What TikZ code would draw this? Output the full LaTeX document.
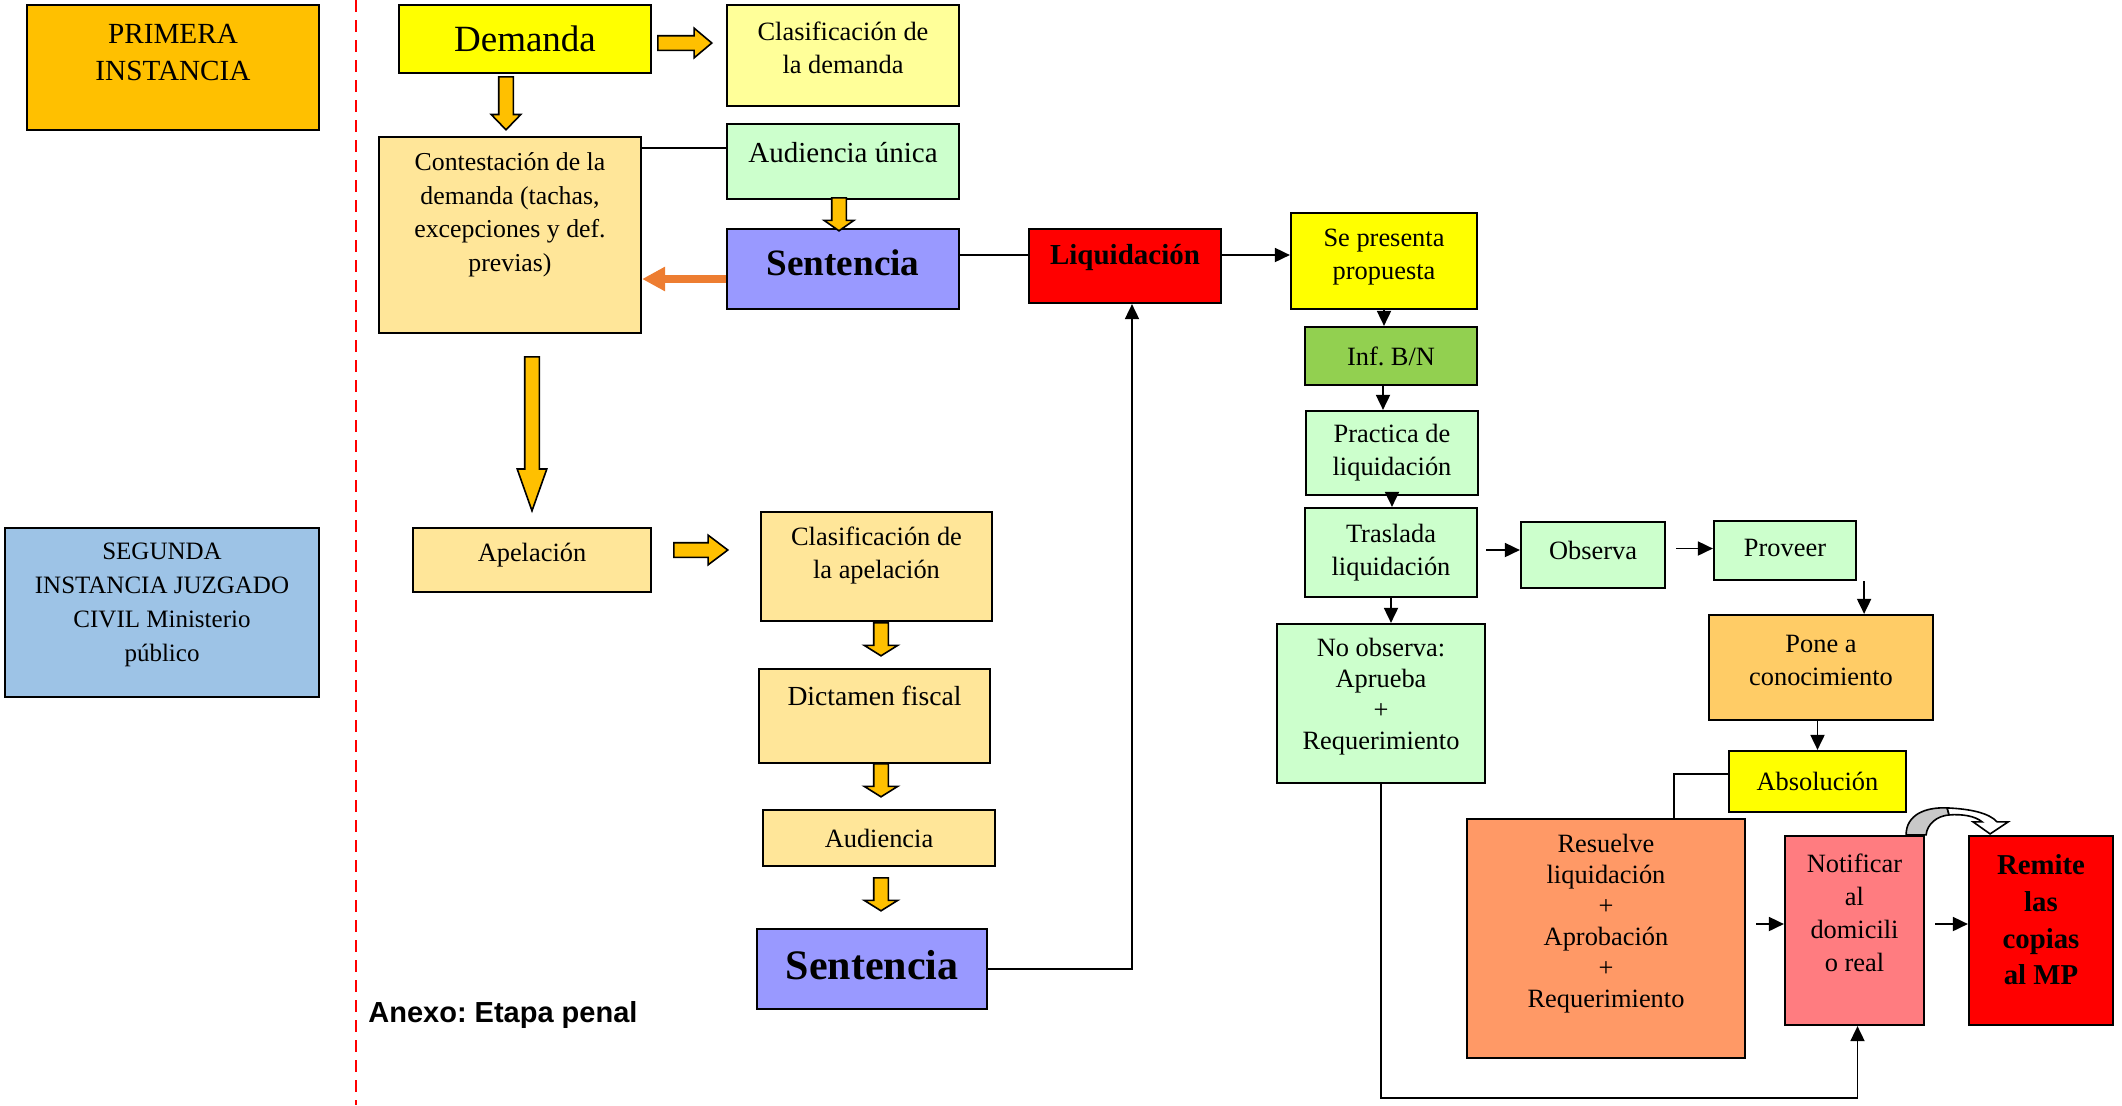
\documentclass[tikz,border=0pt]{standalone}
\usepackage{fontspec}
\setmainfont{Liberation Serif}
\newfontfamily\anexofont{Liberation Sans}
\usetikzlibrary{positioning,calc,arrows.meta,shapes.arrows}
\frenchspacing
\definecolor{ambar}{HTML}{FFC000}
\definecolor{amarillo}{HTML}{FFFF00}
\definecolor{amclaro}{HTML}{FFFF99}
\definecolor{crema}{HTML}{FFE699}
\definecolor{verdecl}{HTML}{CCFFCC}
\definecolor{lila}{HTML}{9999FF}
\definecolor{rojo}{HTML}{FF0000}
\definecolor{verdeinf}{HTML}{92D050}
\definecolor{naranjacl}{HTML}{FFCC66}
\definecolor{salmon}{HTML}{FF9966}
\definecolor{rosa}{HTML}{FF7C80}
\definecolor{celeste}{HTML}{9DC3E6}
\definecolor{naranja}{HTML}{ED7D31}
\definecolor{grisflecha}{HTML}{C8C8C8}
\newcommand{\txtsize}{\fontsize{13.2}{16.5}\selectfont}
\newcommand{\txtsmall}{\fontsize{13.2}{15.5}\selectfont}
\tikzset{
box/.style={draw=black,line width=1.1pt,inner sep=2pt,align=center,font=\txtsize},
txt/.style={align=center,font=\txtsize,inner sep=0pt},
arr/.style={-{Triangle[length=7.5pt,width=7pt]},line width=0.9pt},
ln/.style={line width=0.9pt},
yarr/.style={single arrow,draw=black,line width=0.8pt,fill=ambar,inner sep=0pt,inner ysep=3.25pt,
single arrow head extend=3.75pt,single arrow head indent=0pt,anchor=tail},
orarr/.style={-{Triangle[length=11.5pt,width=11.5pt]},line width=4pt,draw=naranja},
sep/.style={draw=rojo,line width=1.2pt,dash pattern=on 6pt off 4pt}
}
\begin{document}
\begin{tikzpicture}[x=0.5pt,y=-0.5pt]
\useasboundingbox (0,0) rectangle (2122,1105);
% instancias
\node[box,fill=ambar,minimum width=146pt,minimum height=62.5pt] (prim) at (173,67.5) {};
\node[txt,font=\fontsize{14.6}{18.5}\selectfont] (prim-t) at (173,52) {PRIMERA\\INSTANCIA};
\node[box,fill=celeste,minimum width=157pt,minimum height=84.5pt] (seg) at (162,612.5) {};
\node[txt,font=\fontsize{12.5}{17}\selectfont] (seg-t) at (162,605) {SEGUNDA\\INSTANCIA JUZGADO\\CIVIL Ministerio\\público};
\draw[sep] (356,0) -- (356,1105);

% primera instancia
\node[box,fill=amarillo,minimum width=126pt,minimum height=34pt,font=\fontsize{18.5}{22}\selectfont] (dem) at (525,39) {Demanda};
\node[box,fill=amclaro,minimum width=116pt,minimum height=50.5pt] (clasdem) at (843,55.5) {};
\node[txt] (clasdem-t) at (843,48) {Clasificación de\\la demanda};
\node[box,fill=crema,minimum width=131pt,minimum height=98pt] (cont) at (510,235) {};
\node[txt,font=\fontsize{12.9}{16.75}\selectfont] (cont-t) at (510,215) {Contestación de la\\demanda (tachas,\\excepciones y def.\\previas)};
\node[box,fill=verdecl,minimum width=116pt,minimum height=37.5pt] (audu) at (843,161.5) {};
\node[txt,font=\fontsize{14.5}{17}\selectfont] (audu-t) at (843,153) {Audiencia única};
\node[box,fill=lila,minimum width=116pt,minimum height=40pt] (sent) at (843,269) {};
\node[txt,font=\fontsize{18.6}{22}\selectfont\bfseries] (sent-t) at (843,263) {Sentencia};
\node[box,fill=rojo,minimum width=96pt,minimum height=37pt] (liq) at (1125,266) {};
\node[txt,font=\fontsize{14.5}{17}\selectfont\bfseries] (liq-t) at (1125,258) {Liquidación};

\node[yarr,minimum height=27pt,single arrow tip angle=80] (a1) at (657,43) {};
\node[yarr,minimum height=26.5pt,single arrow tip angle=88,rotate=-90] (a2) at (506,76) {};
\node[yarr,minimum height=16.5pt,single arrow tip angle=110,rotate=-90] (a3) at (839,197) {};
\node[yarr,minimum height=77pt,single arrow tip angle=39,rotate=-90] (a4) at (532,356) {};
\draw[orarr] ([yshift=-5pt]sent.west) -- ([yshift=-5pt]sent.west -| cont.east);
\draw[ln] ([yshift=-6pt]cont.north east) -- ([yshift=-6pt]cont.north east -| audu.west);
\draw[ln] ([yshift=7pt]sent.east) -- ([yshift=7pt]sent.east -| liq.west);

% segunda instancia
\node[box,fill=crema,minimum width=119pt,minimum height=32pt] (apel) at (532,560) {};
\node[txt] (apel-t) at (532,555) {Apelación};
\node[box,fill=crema,minimum width=115.5pt,minimum height=54.5pt] (clasap) at (876.5,566.5) {};
\node[txt] (clasap-t) at (876.5,556) {Clasificación de\\la apelación};
\node[box,fill=crema,minimum width=115.5pt,minimum height=47pt] (dict) at (874.5,716) {};
\node[txt,font=\fontsize{13.8}{16.5}\selectfont] (dict-t) at (874.5,696) {Dictamen fiscal};
\node[box,fill=crema,minimum width=116pt,minimum height=28pt] (aud) at (879,838) {Audiencia};
\node[box,fill=lila,minimum width=115pt,minimum height=40pt] (sentb) at (872,969) {};
\node[txt,font=\fontsize{21}{24}\selectfont\bfseries] (sentb-t) at (872,965) {Sentencia};
\node[anchor=west,inner sep=0pt,font=\anexofont\fontsize{14.5}{17}\selectfont\bfseries] (anexo) at (368,1015) {Anexo: Etapa penal};

\node[yarr,minimum height=27pt,single arrow tip angle=74] (a5) at (673,550) {};
\foreach \n/\y in {a6/622,a7/763,a8/877}
  \node[yarr,minimum height=16.5pt,single arrow head extend=4.75pt,single arrow tip angle=116,rotate=-90] (\n) at (881,\y) {};

% liquidacion
\node[box,fill=amarillo,minimum width=93pt,minimum height=48pt] (pres) at (1384,261) {};
\node[txt] (pres-t) at (1384,257) {Se presenta\\propuesta};
\node[box,fill=verdeinf,minimum width=86pt,minimum height=29pt] (inf) at (1391,356) {Inf. B/N};
\node[box,fill=verdecl,minimum width=86pt,minimum height=42pt] (prac) at (1392,453) {Practica de\\liquidación};
\node[box,fill=verdecl,minimum width=86pt,minimum height=44.5pt] (tras) at (1391,552.5) {Traslada\\liquidación};
\node[box,fill=verdecl,minimum width=72pt,minimum height=33pt] (obs) at (1593,555) {};
\node[txt] (obs-t) at (1593,550) {Observa};
\node[box,fill=verdecl,minimum width=71pt,minimum height=29.5pt] (prov) at (1785,550.5) {};
\node[txt] (prov-t) at (1785,548) {Proveer};
\node[box,fill=naranjacl,minimum width=112pt,minimum height=52.5pt] (pone) at (1821,667.5) {};
\node[txt] (pone-t) at (1821,660) {Pone a\\conocimiento};
\node[box,fill=amarillo,minimum width=88.5pt,minimum height=30.5pt] (abs) at (1817.5,781.5) {Absolución};
\node[box,fill=verdecl,minimum width=104pt,minimum height=79.5pt] (noobs) at (1381,703.5) {};
\node[txt,font=\txtsmall] (noobs-t) at (1381,697) {No observa:\\Aprueba\\+\\Requerimiento};
\node[box,fill=salmon,minimum width=139pt,minimum height=119.5pt] (res) at (1606,938.5) {};
\node[txt,font=\txtsmall] (res-t) at (1606,924) {Resuelve\\liquidación\\+\\Aprobación\\+\\Requerimiento};
\node[box,fill=rosa,minimum width=69.5pt,minimum height=94.5pt] (notif) at (1854.5,930.5) {};
\node[txt] (notif-t) at (1854.5,913) {Notificar\\al\\domicili\\o real};
\node[box,fill=rojo,minimum width=72pt,minimum height=94.5pt] (rem) at (2041,930.5) {};
\node[txt,font=\fontsize{14.4}{18.3}\selectfont\bfseries] (rem-t) at (2041,920) {Remite\\las\\copias\\al MP};

\draw[arr] ([yshift=5.5pt]liq.east) -- ([yshift=5.5pt]liq.east -| pres.west);
\draw[arr] (sentb.east) -| ([xshift=3.5pt]liq.south);
\draw[arr] (pres.south) -- (pres.south |- inf.north);
\draw[arr] ([xshift=-4pt]inf.south) -- ([xshift=-4pt]inf.south |- prac.north);
\draw[arr] (prac.south) -- (prac.south |- tras.north);
\draw[arr] (tras.south) -- (tras.south |- noobs.north);
\draw[arr,shorten <=4pt] ([yshift=2.5pt]obs.west -| tras.east) -- ([yshift=2.5pt]obs.west);
\draw[arr,shorten <=5pt] ([yshift=1pt]prov.west -| obs.east) -- ([yshift=1pt]prov.west);
\draw[arr] ([xshift=3.5pt]prov.south east) -- ([xshift=3.5pt]prov.south east |- pone.north);
\draw[arr] (pone.south -| abs.north) -- (abs.north);
\draw[ln] ([yshift=3.75pt]abs.west) -| ([xshift=34pt]res.north);
\draw[arr,shorten <=5pt] ([yshift=3.25pt]notif.west -| res.east) -- ([yshift=3.25pt]notif.west);
\draw[arr,shorten <=5pt] ([yshift=3.25pt]rem.west -| notif.east) -- ([yshift=3.25pt]rem.west);
\draw[arr] (noobs.south) -- ++(0,314) -| ([xshift=1.5pt]notif.south);
% flecha curva
\begin{scope}[shift={(notif.north east)},line width=0.8pt]
\filldraw[fill=grisflecha] (-19,0) .. controls (-19,-20) and (0,-28) .. (22,-27) -- (24,-20) .. controls (12,-19) and (2,-11) .. (1,0) -- cycle;
\filldraw[fill=white] (22,-27) .. controls (45,-26) and (64,-22) .. (72,-13) -- (83,-13) -- (65,-1) -- (48,-13) -- (57,-13) .. controls (50,-19) and (37,-21) .. (24,-20) -- cycle;
\end{scope}
\end{tikzpicture}
\end{document}
